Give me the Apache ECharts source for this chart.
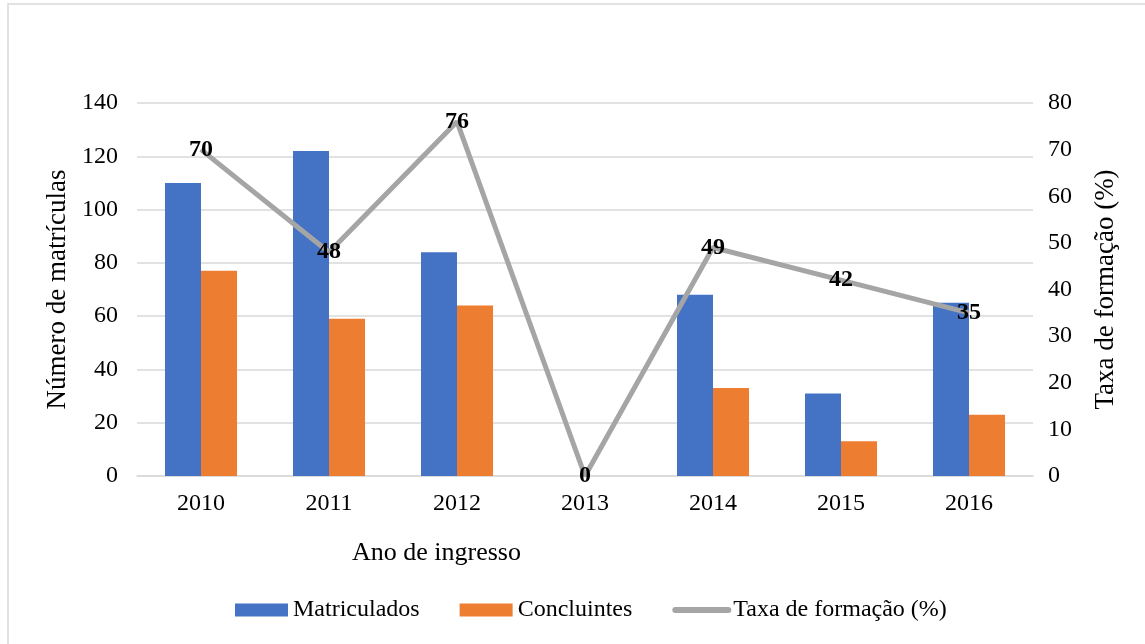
<!DOCTYPE html>
<html>
<head>
<meta charset="utf-8">
<script src="https://cdn.jsdelivr.net/npm/echarts@6/dist/echarts.min.js"></script>
<style>html,body{margin:0;padding:0;background:#fff}#c{width:1145px;height:644px}</style>
</head>
<body>
<div id="c"></div>
<script>
const categories = ['2010','2011','2012','2013','2014','2015','2016'];
const matriculados = [110,122,84,0,68,31,65];
const concluintes = [77,59,64,0,33,13,23];
const taxa = [70,48,76,0,49,42,35];
const leftTicks = {min:0,max:140,interval:20};
const rightTicks = {min:0,max:80,interval:10};

const FONT = '"Liberation Serif","Times New Roman",serif';
const chart = echarts.init(document.getElementById('c'));
chart.setOption({
  animation:false,
  backgroundColor:'#fff',
  textStyle:{fontFamily:FONT},
  graphic:[
    {type:'rect',shape:{x:8,y:4,width:1200,height:700},style:{fill:'none',stroke:'#d9d9d9',lineWidth:1.5},silent:true},
    {type:'text',left:352,top:540,style:{text:'Ano de ingresso',font:'26px '+FONT,fill:'#000'}}
  ],
  legend:{
    bottom:17,left:230,
    itemWidth:53,itemHeight:13,itemGap:40,
    textStyle:{fontFamily:FONT,fontSize:24,color:'#000'},
    data:[{name:'Matriculados',icon:'rect'},{name:'Concluintes',icon:'rect'},
          {name:'Taxa de formação (%)',itemStyle:{opacity:0},lineStyle:{width:6,cap:'round'}}]
  },
  grid:{left:137,right:112,top:103,bottom:168},
  xAxis:{
    type:'category',data:categories,
    axisLine:{lineStyle:{color:'#d9d9d9',width:1.5}},
    axisTick:{show:false},
    axisLabel:{color:'#000',fontSize:24,fontFamily:FONT,margin:16}
  },
  yAxis:[
    {type:'value',min:leftTicks.min,max:leftTicks.max,interval:leftTicks.interval,
     name:'Número de matrículas',nameLocation:'middle',nameGap:57,nameRotate:90,
     nameTextStyle:{color:'#000',fontSize:27,fontFamily:FONT},
     axisLine:{show:false},axisTick:{show:false},
     axisLabel:{color:'#000',fontSize:24,fontFamily:FONT,margin:19},
     splitLine:{lineStyle:{color:'#d9d9d9',width:1.5}}},
    {type:'value',min:rightTicks.min,max:rightTicks.max,interval:rightTicks.interval,
     name:'Taxa de formação (%)',nameLocation:'middle',nameGap:59,nameRotate:90,
     nameTextStyle:{color:'#000',fontSize:27,fontFamily:FONT},
     axisLine:{show:false},axisTick:{show:false},
     axisLabel:{color:'#000',fontSize:24,fontFamily:FONT,margin:15},
     splitLine:{show:false}}
  ],
  series:[
    {name:'Matriculados',type:'bar',data:matriculados,barWidth:36,barGap:'0%',
     itemStyle:{color:'#4472C4'}},
    {name:'Concluintes',type:'bar',data:concluintes,barWidth:36,barGap:'0%',
     itemStyle:{color:'#ED7D31'}},
    {name:'Taxa de formação (%)',type:'line',yAxisIndex:1,data:taxa,
     symbol:'circle',symbolSize:1,showSymbol:true,
     lineStyle:{color:'#A5A5A5',width:5},itemStyle:{color:'#A5A5A5'},
     label:{show:true,position:'inside',color:'#000',fontWeight:'bold',fontSize:24,fontFamily:FONT},
     z:5}
  ]
});
</script>
</body>
</html>
